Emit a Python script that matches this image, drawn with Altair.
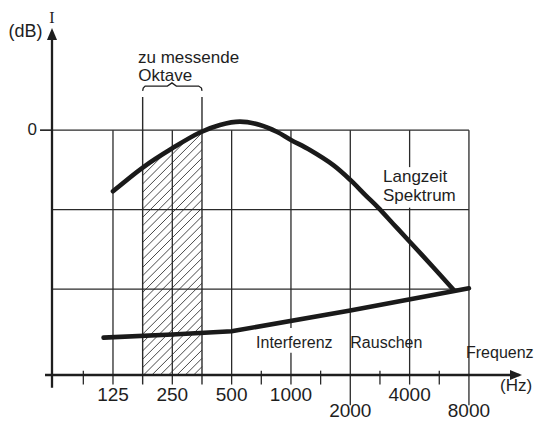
import altair as alt
import pandas as pd

# ---------------- data ----------------
# Long-term speech spectrum ("Langzeit Spektrum"), frequency in Hz, level in dB
spek_freq = [125, 177, 250, 345, 436, 551, 697, 847, 1000, 1248, 1640, 2000,
             2400, 2770, 3305, 3985, 5272, 6663]
spek_db = [-7.7, -4.7, -2.28, -0.3, 0.65, 1.07, 0.65, -0.2, -1.23, -2.5, -4.4, -6.26,
           -8.23, -9.74, -11.8, -13.97, -17.25, -20.05]

# Interference noise ("Interferenz Rauschen")
noise_freq = [112, 250, 500, 2000, 8000]
noise_db = [-26.1, -25.7, -25.3, -22.7, -19.9]

# octave grid / tick labels
grid_freq = [125, 250, 500, 1000, 2000, 4000, 8000]
tick_labels = ["125", "250", "500", "1000", "2000", "4000", "8000"]
label_row = [0, 0, 0, 0, 1, 0, 1]
minor_freq = [88.4, 707.1, 1414.2, 2828.4, 5656.9]
grid_db = [0, -10, -20]

# octave to be measured (hatched band)
band_freq = [176.8, 353.6]

# scale extents
F_MIN, F_MAX = 61.3, 14870
DB_MIN, DB_MAX = -30.8, 12.85

INK = "#1e1e1e"
SANS = "Liberation Sans"

XS = alt.Scale(type="log", base=2, domain=[F_MIN, F_MAX], nice=False)
YS = alt.Scale(domain=[DB_MIN, DB_MAX], nice=False, zero=False)


def X(field):
    return alt.X(field, type="quantitative", scale=XS, axis=None)


def Y(field):
    return alt.Y(field, type="quantitative", scale=YS, axis=None)


# ---------------- hatch pattern inside the band ----------------
rise = 7.46   # dB over one octave -> 45 degree lines
step = 1.05
starts = []
b = DB_MIN - rise
while b < -4.5:
    starts.append(b)
    b += step
hatch_df = pd.DataFrame({"f": band_freq[0], "f2": band_freq[1],
                         "y": starts, "y2": [s + rise for s in starts]})
hatch = alt.Chart(hatch_df).mark_rule(color="#333", strokeWidth=0.9, clip=True).encode(
    x=X("f"), x2="f2", y=Y("y"), y2="y2")

# white mask above the spectrum curve (limits the hatch to the area below it)
mask_df = pd.DataFrame({"f": spek_freq, "db": spek_db, "top": DB_MAX})
mask = alt.Chart(mask_df).mark_area(color="white", interpolate="catmull-rom").encode(
    x=X("f"), y=Y("db"), y2="top")

# ---------------- grid ----------------
hgrid = alt.Chart(pd.DataFrame({"db": grid_db, "f": F_MIN, "f2": 8000})).mark_rule(
    color="#2a2a2a", strokeWidth=1.3).encode(x=X("f"), x2="f2", y=Y("db"))

# vertical grid segments (the drawing leaves gaps where the labels sit)
vseg_f, vseg_top, vseg_bot = [], [], []
for f, r in zip(grid_freq, label_row):
    bottom = -32.0 if r == 0 else -34.6
    if f == 1000:
        pieces = [(0.0, -24.9), (-28.0, bottom)]
    elif f == 4000:
        pieces = [(0.0, -4.65), (-9.75, bottom)]
    else:
        pieces = [(0.0, bottom)]
    for t, bt in pieces:
        vseg_f.append(f)
        vseg_top.append(t)
        vseg_bot.append(bt)
vgrid = alt.Chart(pd.DataFrame({"f": vseg_f, "top": vseg_top, "bot": vseg_bot})).mark_rule(
    color="#2a2a2a", strokeWidth=1.3).encode(x=X("f"), y=Y("top"), y2="bot")

band_df = pd.DataFrame({"f": band_freq, "top": 4.18, "bot": -32.0})
band_edges = alt.Chart(band_df).mark_rule(color="#2a2a2a", strokeWidth=1.4).encode(
    x=X("f"), y=Y("top"), y2="bot")

minor_df = pd.DataFrame({"f": minor_freq, "top": DB_MIN + 0.55, "bot": -32.0})
minor = alt.Chart(minor_df).mark_rule(color="#2a2a2a", strokeWidth=1.3).encode(
    x=X("f"), y=Y("top"), y2="bot")

# ---------------- axes with arrows ----------------
yaxis = alt.Chart(pd.DataFrame({"f": [F_MIN], "top": [DB_MAX - 0.6], "bot": [-32.4]})).mark_rule(
    color=INK, strokeWidth=2.3).encode(x=X("f"), y=Y("top"), y2="bot")
xaxis = alt.Chart(pd.DataFrame({"db": [DB_MIN], "f": [56.5], "f2": [F_MAX * 0.97]})).mark_rule(
    color=INK, strokeWidth=2.3).encode(x=X("f"), x2="f2", y=Y("db"))
ytick0 = alt.Chart(pd.DataFrame({"db": [0], "f": [53.3], "f2": [F_MIN]})).mark_rule(
    color=INK, strokeWidth=1.6).encode(x=X("f"), x2="f2", y=Y("db"))

arrow_up = alt.Chart(pd.DataFrame({"f": [F_MIN], "db": [DB_MAX]})).mark_point(
    shape="M0,0L0.42,1L-0.42,1Z", filled=True, size=576, color=INK, opacity=1, strokeWidth=0
).encode(x=X("f"), y=Y("db"))
arrow_right = alt.Chart(pd.DataFrame({"f": [F_MAX], "db": [DB_MIN]})).mark_point(
    shape="M0,0L-1,-0.42L-1,0.42Z", filled=True, size=576, color=INK, opacity=1, strokeWidth=0
).encode(x=X("f"), y=Y("db"))

# ---------------- brace over the band ----------------
brace_df = pd.DataFrame({
    "f": [176.8, 178, 182, 236, 249, 262, 340, 351.5, 353.6],
    "db": [4.95, 5.3, 5.55, 5.55, 5.95, 5.55, 5.55, 5.3, 4.95],
})
brace = alt.Chart(brace_df).mark_line(color=INK, strokeWidth=1.3).encode(
    x=X("f"), y=Y("db"), order="f:Q")

# ---------------- curves ----------------
spek = alt.Chart(pd.DataFrame({"f": spek_freq, "db": spek_db})).mark_line(
    color="#1a1a1a", strokeWidth=4.6, interpolate="catmull-rom", strokeCap="round").encode(
    x=X("f"), y=Y("db"))
noise = alt.Chart(pd.DataFrame({"f": noise_freq, "db": noise_db})).mark_line(
    color="#1a1a1a", strokeWidth=4.6, strokeCap="round").encode(
    x=X("f"), y=Y("db"))

# ---------------- texts ----------------
tick_df = pd.DataFrame({"t": tick_labels, "f": grid_freq,
                        "db": [-34.06 if r == 0 else -36.14 for r in label_row]})
tick_text = alt.Chart(tick_df).mark_text(
    font=SANS, fontSize=19, align="center", baseline="alphabetic", color=INK).encode(
    x=X("f"), y=Y("db"), text="t:N")

ann_df = pd.DataFrame([
    ("zu messende", 167.5, 8.51, 17),
    ("Oktave", 168, 6.15, 17),
    ("Langzeit", 2932, -6.52, 17),
    ("Spektrum", 2932, -8.95, 17),
    ("Interferenz", 665, -27.4, 16),
    ("Rauschen", 2000, -27.4, 16),
    ("Frequenz", 7730, -28.7, 16),
    ("(Hz)", 11496, -32.8, 17),
], columns=["t", "f", "db", "s"])

ann = alt.Chart(ann_df).mark_text(
    font=SANS, align="left", baseline="alphabetic", color=INK).encode(
    x=X("f"), y=Y("db"), text="t:N", size=alt.Size("s:Q", scale=None, legend=None))

db_label = alt.Chart(pd.DataFrame({"t": ["(dB)"], "f": [54.8], "db": [11.72]})).mark_text(
    font=SANS, fontSize=18, align="right", baseline="alphabetic", color=INK).encode(
    x=X("f"), y=Y("db"), text="t:N")
zero_label = alt.Chart(pd.DataFrame({"t": ["0"], "f": [48.6], "db": [0]})).mark_text(
    font=SANS, fontSize=17, align="center", baseline="middle", color=INK).encode(
    x=X("f"), y=Y("db"), text="t:N")
i_label = alt.Chart(pd.DataFrame({"t": ["I"], "f": [F_MIN], "db": [13.45]})).mark_text(
    font="Liberation Serif", fontSize=16, align="center", baseline="alphabetic", color=INK).encode(
    x=X("f"), y=Y("db"), text="t:N")

chart = alt.layer(
    hatch, mask, hgrid, vgrid, band_edges, minor, yaxis, xaxis, ytick0,
    arrow_up, arrow_right, brace, spek, noise,
    tick_text, ann, db_label, zero_label, i_label,
).properties(
    width=470, height=347,
    padding={"left": 44, "top": 20, "right": 12, "bottom": 47},
    autosize=alt.AutoSizeParams(type="none"),
    background="white",
).configure_view(stroke=None)

chart.save("out.html", embed_options={"renderer": "svg", "actions": False})
